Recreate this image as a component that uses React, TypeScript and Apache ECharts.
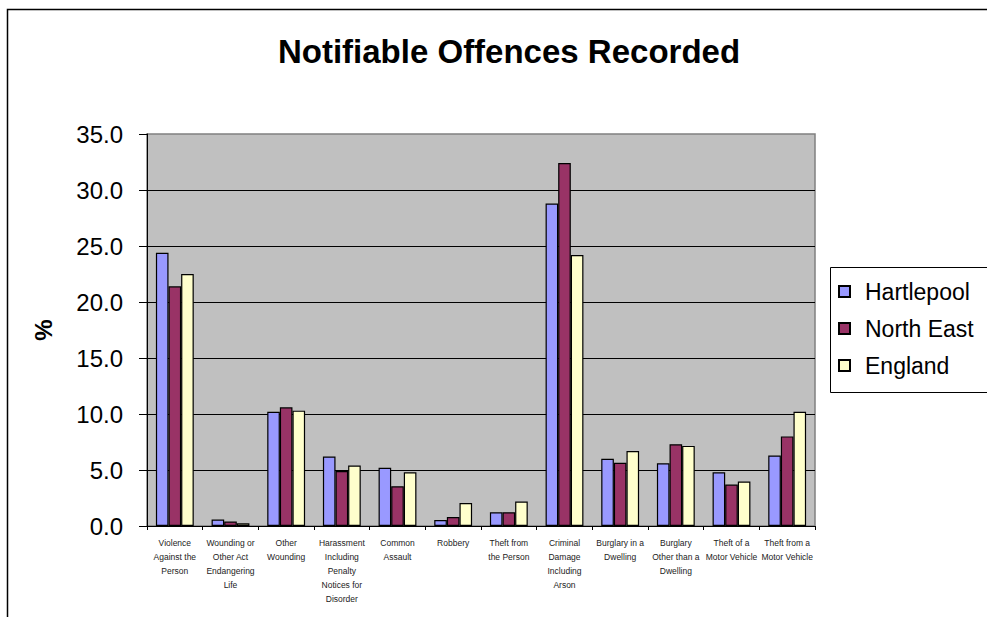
import React, { useEffect, useRef } from "react";
import * as echarts from "echarts";

const categories = [
  "Violence\nAgainst the\nPerson",
  "Wounding or\nOther Act\nEndangering\nLife",
  "Other\nWounding",
  "Harassment\nIncluding\nPenalty\nNotices for\nDisorder",
  "Common\nAssault",
  "Robbery",
  "Theft from\nthe Person",
  "Criminal\nDamage\nIncluding\nArson",
  "Burglary in a\nDwelling",
  "Burglary\nOther than a\nDwelling",
  "Theft of a\nMotor Vehicle",
  "Theft from a\nMotor Vehicle",
];

const hartlepool = [24.4, 0.57, 10.2, 6.2, 5.2, 0.54, 1.23, 28.8, 6.0, 5.6, 4.8, 6.3];
const northEast = [21.4, 0.4, 10.6, 4.9, 3.55, 0.8, 1.23, 32.4, 5.65, 7.3, 3.7, 8.0];
const england = [22.5, 0.25, 10.3, 5.4, 4.8, 2.06, 2.18, 24.2, 6.7, 7.15, 3.97, 10.2];

const seriesNames = ["Hartlepool", "North East", "England"];
const seriesColors = ["#9999FF", "#993366", "#FFFFCC"];

const FONT = "'Liberation Sans', Arial, sans-serif";

export default function App() {
  const ref = useRef<HTMLDivElement>(null);
  useEffect(() => {
    if (!ref.current) return;
    const chart = echarts.init(ref.current, null, { renderer: "svg" });
    const data = [hartlepool, northEast, england];
    chart.setOption({
      animation: false,
      backgroundColor: "#ffffff",
      textStyle: { fontFamily: FONT },
      title: {
        text: "Notifiable Offences Recorded",
        left: 504,
        top: 30,
        textAlign: "center",
        textStyle: { fontFamily: FONT, fontSize: 33, fontWeight: "bold", color: "#000" },
      },
      graphic: [
        {
          type: "rect",
          shape: { x: 7.5, y: 9.5, width: 1100, height: 800 },
          style: { fill: "none", stroke: "#000", lineWidth: 1.5 },
          silent: true,
          z: 100,
        },
        {
          type: "rect",
          shape: { x: 830.5, y: 267.5, width: 300, height: 125 },
          style: { fill: "#fff", stroke: "#000", lineWidth: 1 },
          silent: true,
          z: 1,
        },
      ],
      legend: {
        orient: "vertical",
        left: 830,
        top: 267,
        padding: [13, 8, 12, 8],
        itemGap: 14,
        itemWidth: 11,
        itemHeight: 11,
        icon: "rect",
        z: 10,
        textStyle: {
          fontFamily: FONT,
          fontSize: 23,
          color: "#000",
          padding: [0, 0, 0, 10],
        },
        data: seriesNames,
      },
      grid: {
        left: 147,
        right: 172,
        top: 134,
        bottom: 91,
        show: true,
        backgroundColor: "#C0C0C0",
        borderColor: "#808080",
        borderWidth: 1.5,
      },
      xAxis: {
        type: "category",
        data: categories,
        axisLine: { lineStyle: { color: "#000", width: 1 } },
        axisTick: { show: true, length: 4, lineStyle: { color: "#000" } },
        axisLabel: {
          interval: 0,
          margin: 10,
          fontSize: 8.5,
          lineHeight: 14,
          color: "#222",
          fontFamily: FONT,
          align: "center",
        },
      },
      yAxis: {
        type: "value",
        min: 0,
        max: 35,
        interval: 5,
        name: "%",
        nameLocation: "middle",
        nameGap: 92,
        nameRotate: 90,
        nameTextStyle: { fontFamily: FONT, fontSize: 24, fontWeight: "bold", color: "#000" },
        axisLine: { show: true, lineStyle: { color: "#000", width: 1 } },
        axisTick: { show: true, inside: false, length: 8, lineStyle: { color: "#000" } },
        axisLabel: {
          margin: 24,
          fontSize: 24,
          color: "#000",
          fontFamily: FONT,
          formatter: (v: number) => v.toFixed(1),
        },
        splitLine: { show: true, showMaxLine: false, lineStyle: { color: "#000", width: 1 } },
      },
      series: seriesNames.map((name, i) => ({
        name,
        type: "bar",
        data: data[i],
        barGap: "0%",
        barCategoryGap: "32%",
        itemStyle: { color: seriesColors[i], borderColor: "#000", borderWidth: 1.2 },
      })),
    });
    return () => chart.dispose();
  }, []);
  return (
    <div
      ref={ref}
      style={{ position: "fixed", left: 0, top: 0, width: 987, height: 617 }}
    />
  );
}
